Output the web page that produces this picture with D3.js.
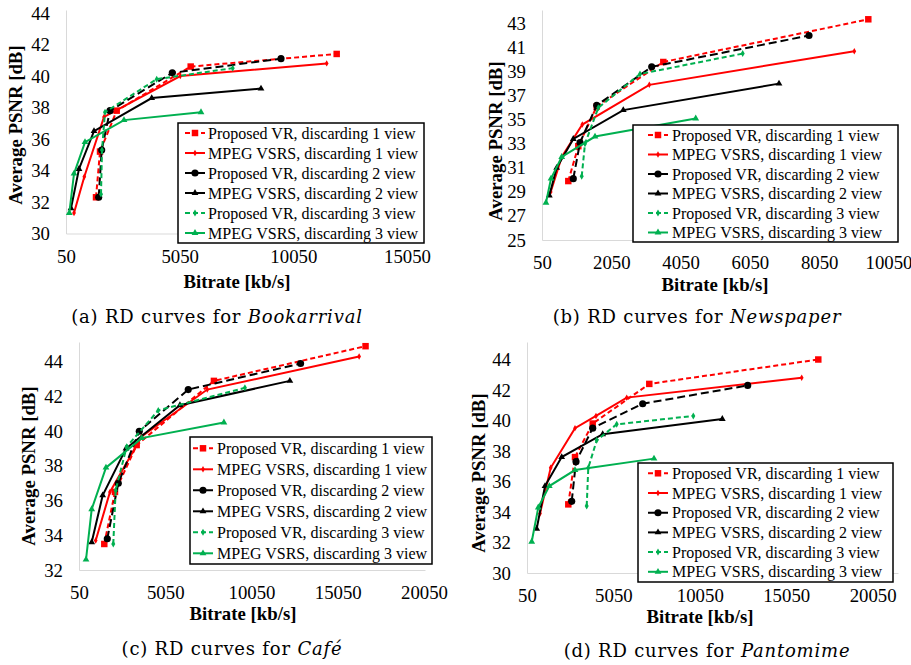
<!DOCTYPE html>
<html>
<head>
<meta charset="utf-8">
<style>
  body { margin: 0; background: #fff; }
  svg text { fill: #000; }
  .caption { font-family: "DejaVu Serif", serif; font-size: 18px; letter-spacing: 0.8px; }
</style>
</head>
<body>
<svg id="fig" width="911" height="665"></svg>
<script src="https://cdnjs.cloudflare.com/ajax/libs/d3/7.8.5/d3.min.js"></script>
<script>
// legend entries, same order in every panel
var seriesNames = [
  "Proposed VR, discarding 1 view",
  "MPEG VSRS, discarding 1 view",
  "Proposed VR, discarding 2 view",
  "MPEG VSRS, discarding 2 view",
  "Proposed VR, discarding 3 view",
  "MPEG VSRS, discarding 3 view"
];

// (a) Bookarrival
var bookRate = [
  [1370, 1546, 2280, 5535, 11957],
  [402, 855, 1722, 5078, 11518],
  [1488, 1620, 1986, 4726, 9508],
  [270, 622, 1282, 3820, 8628],
  [1590, 1634, 1766, 4040, 7383],
  [195, 402, 886, 2601, 5989]
];
var bookPsnr = [
  [32.3, 35.2, 37.8, 40.6, 41.4],
  [31.3, 33.6, 37.4, 40.0, 40.8],
  [32.3, 35.3, 37.8, 40.2, 41.1],
  [31.6, 34.1, 36.5, 38.6, 39.2],
  [32.5, 35.3, 37.7, 39.8, 40.5],
  [31.3, 33.8, 35.8, 37.2, 37.7]
];
var bookXTicks = [50, 5050, 10050, 15050];
var bookYTicks = [30, 32, 34, 36, 38, 40, 42, 44];

// (b) Newspaper
var newsRate = [
  [809, 1098, 1629, 3551, 9467],
  [301, 619, 1213, 3147, 9063],
  [953, 1147, 1629, 3216, 7756],
  [261, 474, 953, 2396, 6890],
  [1196, 1291, 1675, 2878, 5842],
  [165, 310, 619, 1580, 4486]
];
var newsPsnr = [
  [29.9, 32.8, 36.1, 39.8, 43.35],
  [29.0, 31.9, 34.6, 37.9, 40.7],
  [30.1, 33.1, 36.2, 39.4, 42.0],
  [28.7, 31.0, 33.4, 35.8, 38.0],
  [30.3, 33.0, 36.0, 38.8, 40.5],
  [28.1, 30.1, 31.9, 33.6, 35.1]
];
var newsXTicks = [50, 2050, 4050, 6050, 8050, 10050];
var newsYTicks = [25, 27, 29, 31, 33, 35, 37, 39, 41, 43];

// (c) Cafe
var cafeRate = [
  [1516, 2136, 3393, 7872, 16661],
  [1018, 1846, 3683, 7484, 16290],
  [1690, 2327, 3544, 6383, 12895],
  [786, 1423, 2773, 5902, 12275],
  [2037, 2176, 2814, 4645, 9668],
  [456, 786, 1614, 3683, 8451]
];
var cafePsnr = [
  [33.5, 36.5, 39.2, 42.9, 44.9],
  [33.7, 36.5, 39.7, 42.4, 44.3],
  [33.8, 37.0, 40.0, 42.4, 43.9],
  [33.6, 36.3, 39.0, 41.5, 42.9],
  [33.5, 36.6, 39.1, 41.2, 42.5],
  [32.6, 35.5, 37.9, 39.6, 40.5]
];
var cafeXTicks = [50, 5050, 10050, 15050, 20050];
var cafeYTicks = [32, 34, 36, 38, 40, 42, 44];

// (d) Pantomime
var pantoRate = [
  [2440, 2828, 3852, 7127, 16907],
  [802, 1421, 2828, 4043, 5820, 15947],
  [2637, 2886, 3852, 6746, 12822],
  [611, 1092, 2058, 4431, 11352],
  [3505, 3597, 4083, 5241, 9674],
  [322, 704, 1340, 2828, 7400]
];
var pantoPsnr = [
  [34.5, 37.6, 39.8, 42.4, 44.0],
  [33.9, 36.9, 39.5, 40.3, 41.5, 42.8],
  [34.7, 37.3, 39.5, 41.1, 42.3],
  [32.9, 35.7, 37.6, 39.1, 40.1],
  [34.4, 36.9, 38.7, 39.75, 40.3],
  [32.05, 34.3, 35.7, 36.75, 37.5]
];
var pantoXTicks = [50, 5050, 10050, 15050, 20050];
var pantoYTicks = [30, 32, 34, 36, 38, 40, 42, 44];

// look of each series
var styles = [
  { color: "#ff0000", dash: "5,3", sym: d3.symbolSquare, size: 42 },
  { color: "#ff0000", dash: null, sym: d3.symbolDiamond, size: 12 },
  { color: "#000000", dash: "8,4", sym: d3.symbolCircle, size: 40 },
  { color: "#000000", dash: null, sym: d3.symbolTriangle, size: 20 },
  { color: "#00b050", dash: "5,3", sym: d3.symbolDiamond, size: 14 },
  { color: "#00b050", dash: null, sym: d3.symbolTriangle, size: 20 }
];

var panels = [
  { rate: bookRate, psnr: bookPsnr, xTicks: bookXTicks, yTicks: bookYTicks,
    xPix: [66, 407], yPix: [233.5, 13], top: 10, right: 423,
    yLab: [15, 125], xLab: [237, 288], cap: [217, 323], tag: "(a)", name: "Bookarrival",
    leg: { x: 178, y: 123, w: 246, h: 120, row0: 133, step: 20, lx: 185, tx: 208 } },
  { rate: newsRate, psnr: newsPsnr, xTicks: newsXTicks, yTicks: newsYTicks,
    xPix: [542, 888.5], yPix: [240, 23.5], top: 10, right: 898,
    yLab: [495, 141], xLab: [715, 291], cap: [697, 323], tag: "(b)", name: "Newspaper",
    leg: { x: 633, y: 125, w: 265, h: 117, row0: 135, step: 19.5, lx: 648, tx: 672 } },
  { rate: cafeRate, psnr: cafePsnr, xTicks: cafeXTicks, yTicks: cafeYTicks,
    xPix: [79, 424], yPix: [570, 361.8], top: 342, right: 425,
    yLab: [28, 466], xLab: [243, 620], cap: [232, 655], tag: "(c)", name: "Café",
    leg: { x: 190, y: 437, w: 242, h: 127, row0: 448.3, step: 21, lx: 193, tx: 217 } },
  { rate: pantoRate, psnr: pantoPsnr, xTicks: pantoXTicks, yTicks: pantoYTicks,
    xPix: [527, 872.6], yPix: [573, 359.5], top: 342, right: 898,
    yLab: [478, 473], xLab: [700, 623], cap: [707, 657], tag: "(d)", name: "Pantomime",
    leg: { x: 638, y: 463, w: 255, h: 119, row0: 473.3, step: 19.7, lx: 648, tx: 672 } }
];

// find a Times-like face that is really installed, else fall back
var ctx = document.createElement("canvas").getContext("2d");
function textWidth(font, s) { ctx.font = font; return ctx.measureText(s).width; }
function hasFont(f) {
  var s = "Proposed VR, discarding 1 view 0123456789";
  return textWidth("40px monospace", s) !== textWidth("40px '" + f + "', monospace", s) &&
         textWidth("40px sans-serif", s) !== textWidth("40px '" + f + "', sans-serif", s);
}
var serifFace = ["Liberation Serif", "Tinos", "Times New Roman", "Nimbus Roman",
                 "Nimbus Roman No9 L", "FreeSerif", "Noto Serif", "DejaVu Serif"]
  .filter(hasFont)[0] || "serif";
var FF = "'" + serifFace + "', serif";
// size each text kind so its width matches the figure
function fitSize(weight, s, target) {
  return 40 * target / textWidth(weight + " 40px " + FF, s);
}
var tickSize = fitSize("normal", "15050", 47);
var legSize = fitSize("normal", "Proposed VR, discarding 1 view", 208);
var labSize = fitSize("bold", "Bitrate [kb/s]", 107);

var svg = d3.select("#fig").style("font-family", FF);

panels.forEach(function (p) {
  var xt = p.xTicks, yt = p.yTicks;
  var x = d3.scaleLinear().domain([xt[0], xt[xt.length - 1]]).range(p.xPix);
  var y = d3.scaleLinear().domain([yt[0], yt[yt.length - 1]]).range(p.yPix);
  var g = svg.append("g");

  // axes: extend the domain lines out to the plot edges
  var xAxisScale = x.copy().domain([xt[0], x.invert(p.right)]).range([p.xPix[0], p.right]);
  var yAxisScale = y.copy().domain([yt[0], y.invert(p.top)]).range([p.yPix[0], p.top]);

  var ax = g.append("g").attr("transform", "translate(0," + p.yPix[0] + ")")
    .call(d3.axisBottom(xAxisScale).tickValues(xt).tickSize(0).tickPadding(16).tickFormat(d3.format("d")));
  var ay = g.append("g").attr("transform", "translate(" + p.xPix[0] + ",0)")
    .call(d3.axisLeft(yAxisScale).tickValues(yt).tickSize(0).tickPadding(16).tickFormat(d3.format("d")));
  [ax, ay].forEach(function (a) {
    a.attr("font-family", FF).attr("font-size", tickSize);
    a.select(".domain").attr("stroke", "#d9d9d9").attr("stroke-width", 1);
    a.selectAll("text").attr("fill", "#000");
  });

  // series
  var line = d3.line().x(function (d) { return x(d[0]); }).y(function (d) { return y(d[1]); });
  p.rate.forEach(function (r, i) {
    var pts = r.map(function (v, k) { return [v, p.psnr[i][k]]; });
    var s = styles[i];
    g.append("path").datum(pts).attr("d", line)
      .attr("fill", "none").attr("stroke", s.color).attr("stroke-width", 2)
      .attr("stroke-dasharray", s.dash);
    g.selectAll(null).data(pts).enter().append("path")
      .attr("d", d3.symbol().type(s.sym).size(s.size))
      .attr("transform", function (d) { return "translate(" + x(d[0]) + "," + y(d[1]) + ")"; })
      .attr("fill", s.color);
  });

  // legend
  var L = p.leg;
  g.append("rect").attr("x", L.x).attr("y", L.y).attr("width", L.w).attr("height", L.h)
    .attr("fill", "#fff").attr("stroke", "#000").attr("stroke-width", 1.5);
  seriesNames.forEach(function (n, i) {
    var s = styles[i], ry = L.row0 + i * L.step;
    g.append("line").attr("x1", L.lx).attr("x2", L.lx + 20).attr("y1", ry).attr("y2", ry)
      .attr("stroke", s.color).attr("stroke-width", 2).attr("stroke-dasharray", s.dash);
    g.append("path").attr("d", d3.symbol().type(s.sym).size(s.size))
      .attr("transform", "translate(" + (L.lx + 10) + "," + ry + ")").attr("fill", s.color);
    g.append("text").attr("x", L.tx).attr("y", ry).attr("dy", "0.35em")
      .attr("font-size", legSize).text(n);
  });

  // axis titles
  g.append("text").attr("transform", "translate(" + p.yLab[0] + "," + p.yLab[1] + ") rotate(-90)")
    .attr("text-anchor", "middle").attr("dy", "0.35em")
    .attr("font-size", labSize).attr("font-weight", "bold").text("Average PSNR [dB]");
  g.append("text").attr("x", p.xLab[0]).attr("y", p.xLab[1])
    .attr("text-anchor", "middle").attr("font-size", labSize).attr("font-weight", "bold")
    .text("Bitrate [kb/s]");

  // caption
  var c = g.append("text").attr("class", "caption").attr("x", p.cap[0]).attr("y", p.cap[1])
    .attr("text-anchor", "middle");
  c.append("tspan").text(p.tag + " RD curves for ");
  c.append("tspan").attr("font-style", "italic").text(p.name);
});
</script>
</body>
</html>
